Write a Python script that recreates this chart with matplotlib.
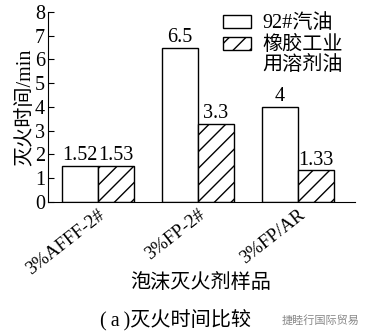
import numpy as np
import matplotlib
matplotlib.use('Agg')
import matplotlib.pyplot as plt

plt.rcParams['font.family'] = ['Liberation Serif', 'Noto Sans CJK SC']
plt.rcParams['hatch.linewidth'] = 1.0

samples = ['3%AFFF-2#', '3%FP-2#', '3%FP/AR']
gasoline = [1.52, 6.5, 4]
solvent = [1.53, 3.3, 1.33]
gas_labels = ['1.52', '6.5', '4']
sol_labels = ['1.53', '3.3', '1.33']
series_names = ['92#汽油', '橡胶工业', '用溶剂油']

fs = 14.5
fig = plt.figure(figsize=(3.71, 3.32), dpi=100)
ax = fig.add_axes([0.129, 0.392, 0.828, 0.572])

x = np.arange(len(samples))
w = 0.36
ax.bar(x - w / 2, gasoline, w, color='white', edgecolor='black', lw=1.0, label=series_names[0])
ax.bar(x + w / 2, solvent, w, color='white', edgecolor='black', lw=1.0, hatch='//', label=series_names[1])

for xi, v, s in zip(x - w / 2, gasoline, gas_labels):
    ax.text(xi, v + 0.03, s, ha='center', va='bottom', fontsize=fs)
for xi, v, s in zip(x + w / 2, solvent, sol_labels):
    ax.text(xi, v + 0.03, s, ha='center', va='bottom', fontsize=fs)

ax.set_xlim(-0.5, 2.57)
ax.set_ylim(0, 8)
ax.set_yticks(range(9))
ax.tick_params(axis='y', direction='in', length=4, labelsize=fs, pad=2)
ax.set_xticks(x)
ax.set_xticklabels(samples, rotation=38, ha='right', rotation_mode='anchor', fontsize=13.5)
ax.tick_params(axis='x', length=0, pad=3)
for sp in ['top', 'right']:
    ax.spines[sp].set_visible(False)

ax.set_ylabel('灭火时间/min', fontsize=fs, labelpad=0)
fig.text(0.54, 0.146, '泡沫灭火剂样品', ha='center', va='center', fontsize=fs)

leg = ax.legend(loc='upper left', bbox_to_anchor=(0.545, 1.03), frameon=False, fontsize=fs,
                handlelength=1.35, handleheight=0.6, handletextpad=0.6, labelspacing=0.15,
                borderaxespad=0)

fig.canvas.draw()
t = leg.get_texts()[1]
bb = t.get_window_extent().transformed(fig.transFigure.inverted())
fig.text(bb.x0, bb.y0 - 0.003, series_names[2], ha='left', va='top', fontsize=fs)

fig.text(0.474, 0.036, '(\u2009a\u2009)灭火时间比较', ha='center', va='center', fontsize=fs)
fig.text(0.97, 0.036, '捷睦行国际贸易', ha='right', va='center', fontsize=8, color='#888888')

fig.savefig('out.png', dpi=100)
